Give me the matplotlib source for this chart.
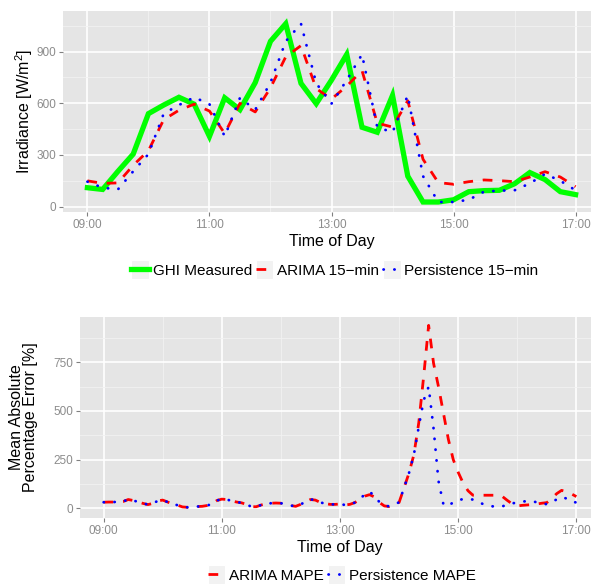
import numpy as np
import matplotlib
matplotlib.use("Agg")
import matplotlib.pyplot as plt
from matplotlib.patches import Rectangle
from matplotlib.legend_handler import HandlerLine2D
from matplotlib.ticker import MultipleLocator

plt.rcParams['font.family'] = ['Liberation Sans', 'DejaVu Sans']
plt.rcParams['mathtext.fontset'] = 'custom'
plt.rcParams['mathtext.rm'] = 'Liberation Sans'
plt.rcParams['mathtext.default'] = 'regular'

# top panel: 15-min steps 09:00 .. 17:00
ghi_measured = [110, 100, 205, 305, 540, 590, 635, 595, 408, 632, 563, 720, 960, 1062, 716, 598,
                735, 884, 461, 432, 646, 177, 27, 27, 40, 87, 93, 95, 133, 198, 157, 87, 70]
arima_15 = [150, 135, 138, 240, 325, 505, 560, 595, 555, 425, 600, 550, 690, 870, 935, 685,
            625, 700, 790, 485, 462, 615, 275, 140, 130, 145, 155, 151, 145, 172, 203, 172, 116]
persist_15 = [145, 110, 100, 205, 305, 540, 590, 635, 595, 408, 632, 563, 720, 960, 1062, 716,
              598, 735, 884, 461, 432, 646, 177, 27, 27, 40, 87, 93, 95, 135, 190, 150, 95]

# bottom panel: 5-min steps 09:00 .. 17:00
arima_mape = [31, 32, 32, 33, 35, 45, 40, 33, 25, 19, 25, 38, 42, 32, 22, 16, 7, 5, 7, 9, 10, 14,
              22, 40, 47, 45, 38, 32, 28, 20, 8, 8, 17, 22, 26, 27, 26, 20, 14, 10, 20, 33, 45,
              42, 30, 24, 20, 20, 22, 17, 20, 29, 45, 62, 70, 58, 30, 12, 9, 22, 30, 105, 180,
              275, 440, 680, 940, 745, 625, 490, 355, 250, 185, 130, 90, 67, 67, 67, 67, 67, 67,
              60, 40, 22, 12, 15, 17, 19, 22, 26, 29, 50, 75, 92, 85, 74, 60]
persist_mape = [31, 32, 32, 33, 35, 46, 40, 33, 25, 19, 25, 38, 42, 32, 22, 16, 7, 5, 7, 9, 10, 14,
                22, 40, 47, 45, 38, 32, 28, 20, 8, 8, 17, 22, 26, 27, 26, 20, 14, 10, 20, 33, 46,
                42, 30, 24, 20, 20, 22, 17, 20, 29, 48, 70, 86, 62, 32, 14, 10, 22, 30, 105, 180,
                275, 420, 555, 625, 410, 140, 20, 10, 32, 42, 47, 46, 45, 35, 22, 14, 10, 9, 11,
                15, 25, 30, 34, 37, 37, 30, 24, 21, 30, 46, 58, 50, 33, 30]

tick_hours = [9, 11, 13, 15, 17]
tick_labels = ["09:00", "11:00", "13:00", "15:00", "17:00"]

t15 = 9 + np.arange(len(ghi_measured)) * 0.25
t5 = 9 + np.arange(len(arima_mape)) / 12.0

W, H = 591, 584
fig = plt.figure(figsize=(W / 100, H / 100), dpi=100)


def px_axes(left, top, right, bottom):
    return fig.add_axes([left / W, 1 - bottom / H, (right - left) / W, (bottom - top) / H])


def style(ax, ymajor):
    ax.set_facecolor('#E5E5E5')
    for s in ax.spines.values():
        s.set_visible(False)
    ax.set_xlim(8.6, 17.4)
    ax.set_xticks(tick_hours)
    ax.set_xticklabels(tick_labels)
    ax.xaxis.set_minor_locator(MultipleLocator(1))
    ax.yaxis.set_major_locator(MultipleLocator(ymajor))
    ax.yaxis.set_minor_locator(MultipleLocator(ymajor / 2))
    ax.grid(which='minor', color='#F2F2F2', lw=0.6)
    ax.grid(which='major', color='white', lw=1.2)
    ax.set_axisbelow(True)
    ax.tick_params(which='major', length=3, width=0.8, color='#808080', labelcolor='#8C8C8C',
                   labelsize=8.5, pad=2)
    ax.tick_params(which='minor', length=0)


class KeyHandler(HandlerLine2D):
    def create_artists(self, legend, orig_handle, xdescent, ydescent, width, height, fontsize, trans):
        bg = Rectangle((-xdescent, -ydescent - 2), width, height + 4, facecolor='#F2F2F2',
                       edgecolor='white', lw=0.8, transform=trans)
        arts = super().create_artists(legend, orig_handle, xdescent, ydescent, width, height,
                                      fontsize, trans)
        return [bg] + list(arts)


green_kw = dict(color='#00FF00', lw=3.8, solid_joinstyle='miter')
red_kw = dict(color='#FF0000', lw=2.0, linestyle=(0, (3.5, 3.5)))
blue_kw = dict(color='#0000FF', lw=2.0, linestyle=(0, (0.1, 3.8)), dash_capstyle='round')

# top panel
ax1 = px_axes(63, 11, 600, 212)
style(ax1, 300)
ax1.set_ylim(-31, 1136)
l1, = ax1.plot(t15, ghi_measured, **green_kw)
l2, = ax1.plot(t15, arima_15, **red_kw)
l3, = ax1.plot(t15, persist_15, **blue_kw)
ax1.set_xlabel("Time of Day", fontsize=11.5, labelpad=2)
ax1.set_ylabel("Irradiance [W/m$^2$]", fontsize=11.5, labelpad=1)
fig.legend([l1, l2, l3], ["GHI Measured", "ARIMA 15\u2212min", "Persistence 15\u2212min"],
           loc='center', bbox_to_anchor=(335 / W, 1 - 270 / H), ncol=3, frameon=False,
           fontsize=11, handlelength=1.15, handleheight=1.0, handletextpad=0.25,
           columnspacing=0.25, handler_map={l: KeyHandler() for l in (l1, l2, l3)})

# bottom panel
ax2 = px_axes(80, 317, 600, 518)
style(ax2, 250)
ax2.set_ylim(-50, 983)
m1, = ax2.plot(t5, arima_mape, **red_kw)
m2, = ax2.plot(t5, persist_mape, **blue_kw)
ax2.set_xlabel("Time of Day", fontsize=11.5, labelpad=2)
ax2.set_ylabel("Mean Absolute\nPercentage Error [%]", fontsize=11.5, labelpad=11,
               linespacing=0.95)
fig.legend([m1, m2], ["ARIMA MAPE", "Persistence MAPE"],
           loc='center', bbox_to_anchor=(342 / W, 1 - 575 / H), ncol=2, frameon=False,
           fontsize=11, handlelength=1.15, handleheight=1.0, handletextpad=0.25,
           columnspacing=0.25, handler_map={l: KeyHandler() for l in (m1, m2)})

fig.savefig("out.png", dpi=100)
